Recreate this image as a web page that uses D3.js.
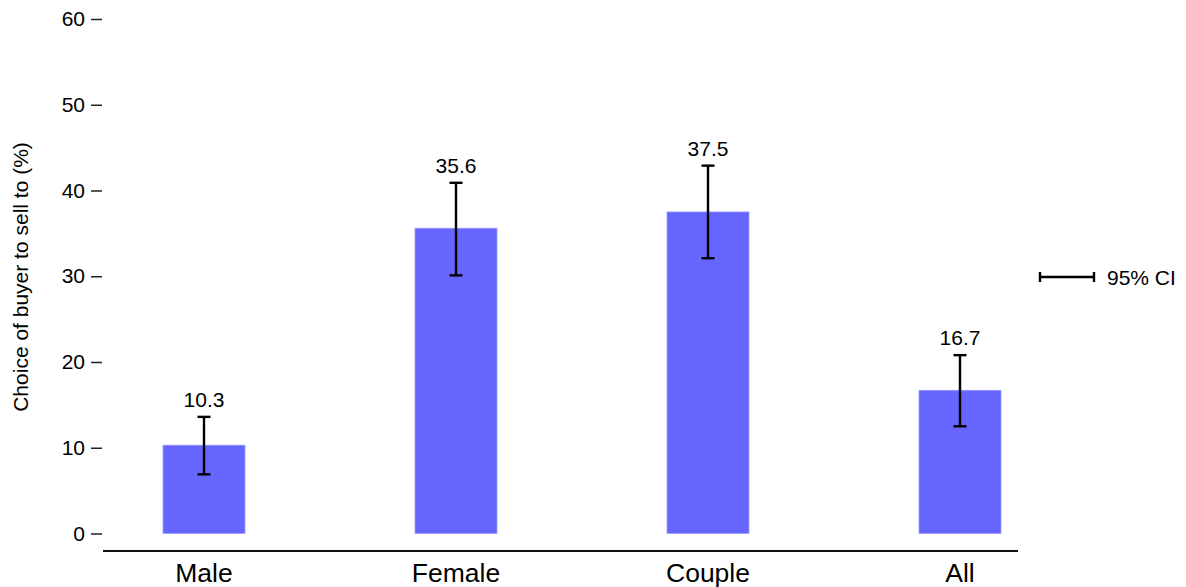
<!DOCTYPE html>
<html><head><meta charset="utf-8">
<script src="https://cdn.jsdelivr.net/npm/d3@7"></script>
<style>body{margin:0;background:#fff;} svg{display:block;font-family:"Liberation Sans",Arial,sans-serif;}</style>
</head><body>
<script>
const categories = ["Male","Female","Couple","All"];
const values = [10.3, 35.6, 37.5, 16.7];
const ciLow = [6.9, 30.1, 32.1, 12.5];
const ciHigh = [13.6, 40.9, 42.9, 20.8];
const yTicks = [0,10,20,30,40,50,60];
const yTitle = "Choice of buyer to sell to (%)";
const legendLabel = "95% CI";

const W = 1186, H = 587;
const svg = d3.select("body").append("svg").attr("width", W).attr("height", H);

const y = d3.scaleLinear().domain([0,60]).range([533.5,19]);
const x = d3.scalePoint().domain(categories).range([204,960]);
const bw = 82;
const ebw = 2.4;

// y axis ticks (no domain line)
const yAxis = svg.append("g").attr("transform","translate(102,0)")
  .call(d3.axisLeft(y).tickValues(yTicks).tickSize(11).tickPadding(6).tickFormat(d3.format("d")));
yAxis.select(".domain").remove();
yAxis.selectAll(".tick line").attr("stroke","#222").attr("stroke-width",1.5);
yAxis.selectAll(".tick text").attr("font-size",21).attr("fill","#000").attr("font-family","Liberation Sans, Arial, sans-serif");

// y title
svg.append("text").attr("transform","translate(28,277) rotate(-90)")
  .attr("text-anchor","middle").attr("font-size",21).attr("fill","#000").text(yTitle);

// x axis line
svg.append("line").attr("x1",103).attr("x2",1018).attr("y1",551).attr("y2",551)
  .attr("stroke","#111").attr("stroke-width",2);

// category labels
svg.selectAll(".cat").data(categories).enter().append("text")
  .attr("x",d=>x(d)).attr("y",582).attr("text-anchor","middle")
  .attr("font-size",26.5).attr("fill","#000").text(d=>d);

// bars
svg.selectAll(".bar").data(categories).enter().append("rect")
  .attr("x",d=>x(d)-bw/2).attr("width",bw)
  .attr("y",(d,i)=>y(values[i])).attr("height",(d,i)=>y(0)-y(values[i]))
  .attr("fill","#6666ff").attr("stroke","#9a9aff").attr("stroke-width",0.8);

// error bars
const eb = svg.selectAll(".eb").data(categories).enter().append("g");
eb.append("line").attr("x1",d=>x(d)).attr("x2",d=>x(d))
  .attr("y1",(d,i)=>y(ciLow[i])).attr("y2",(d,i)=>y(ciHigh[i]))
  .attr("stroke","#000").attr("stroke-width",ebw);
eb.append("line").attr("x1",d=>x(d)-6.5).attr("x2",d=>x(d)+6.5)
  .attr("y1",(d,i)=>y(ciLow[i])).attr("y2",(d,i)=>y(ciLow[i]))
  .attr("stroke","#000").attr("stroke-width",ebw);
eb.append("line").attr("x1",d=>x(d)-6.5).attr("x2",d=>x(d)+6.5)
  .attr("y1",(d,i)=>y(ciHigh[i])).attr("y2",(d,i)=>y(ciHigh[i]))
  .attr("stroke","#000").attr("stroke-width",ebw);

// value labels
svg.selectAll(".val").data(categories).enter().append("text")
  .attr("x",d=>x(d)).attr("y",(d,i)=>y(ciHigh[i])-10).attr("text-anchor","middle")
  .attr("font-size",21).attr("fill","#000").text((d,i)=>values[i].toFixed(1));

// legend
const lg = svg.append("g");
lg.append("line").attr("x1",1040).attr("x2",1094).attr("y1",277).attr("y2",277).attr("stroke","#000").attr("stroke-width",ebw);
lg.append("line").attr("x1",1040).attr("x2",1040).attr("y1",272).attr("y2",282).attr("stroke","#000").attr("stroke-width",ebw);
lg.append("line").attr("x1",1094).attr("x2",1094).attr("y1",272).attr("y2",282).attr("stroke","#000").attr("stroke-width",ebw);
lg.append("text").attr("x",1107).attr("y",284.5).attr("font-size",21).attr("fill","#000").text(legendLabel);
</script>
</body></html>
